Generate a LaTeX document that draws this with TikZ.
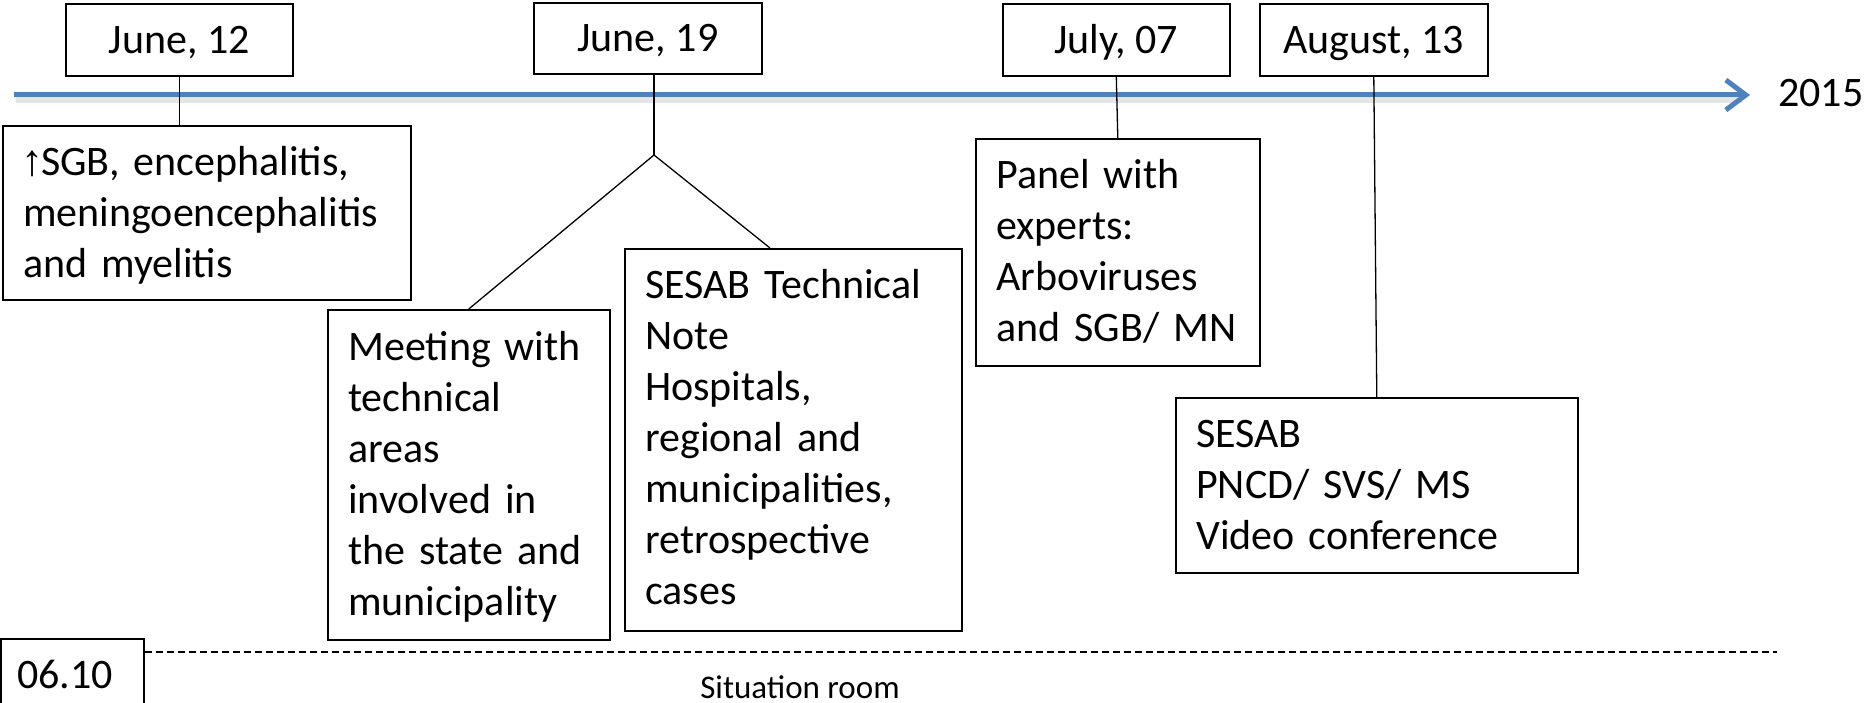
\documentclass[tikz,border=0pt]{standalone}
\usepackage{fontspec}
\setmainfont{Carlito}
\newfontfamily\arrowfont{Liberation Sans}
\usetikzlibrary{arrows.meta,calc}
\definecolor{tlblue}{RGB}{79,129,189}
\newcommand{\mainsz}{\fontsize{42}{51}\selectfont}
\newcommand{\fst}{\rule{0pt}{34pt}}
\begin{document}
\begin{tikzpicture}[x=1pt,y=-1pt,
  box/.style={draw,line width=1.6pt,inner sep=0pt,anchor=north west},
  datebox/.style={box,font=\mainsz,text height=27pt,text depth=0pt},
  txt/.style={anchor=north west,inner sep=0pt,align=left,text width=420pt,font=\mainsz},
  conn/.style={line width=1.3pt},
  timeline/.style={line width=5pt,color=tlblue,-{Straight Barb[length=20pt,width=30pt,line width=5pt]}}]
\useasboundingbox (0,0) rectangle (1874,703);
% timeline
\coordinate (tls) at (14,95);
\coordinate (tle) at (1750,95);
\draw[line width=6pt,black!10] ($(tls)+(2,5)$) -- ($(tle)+(-8,5)$);
\draw[timeline] (tls) -- (tle);
\node[anchor=base west,inner sep=0pt,font=\mainsz] (yr) at (1778,107) {2015};
% date boxes
\node[datebox,minimum width=227pt,minimum height=72pt] (d12) at (65,3) {June, 12};
\node[datebox,minimum width=228pt,minimum height=71pt] (d19) at (533,2) {June, 19};
\node[datebox,minimum width=227pt,minimum height=72pt] (d07) at (1002,3) {July, 07};
\node[datebox,minimum width=228pt,minimum height=72pt] (d13) at (1259,3) {August, 13};
% event boxes
\node[box,minimum width=408pt,minimum height=174pt] (sgb) at (2,125) {};
\node[txt] (sgbt) at (23,141) {\fst{\arrowfont\fontsize{44}{51}\selectfont\kern-2pt↑\kern-2pt}SGB, encephalitis,\\meningoencephalitis\\and myelitis};
\node[box,minimum width=282pt,minimum height=330pt] (meet) at (327,309) {};
\node[txt] (meett) at (348,326) {\fst Meeting with\\technical\\areas\\involved in\\the state and\\municipality};
\node[box,minimum width=337pt,minimum height=382pt] (tech) at (624,248) {};
\node[txt] (techt) at (645,264) {\fst SESAB Technical\\Note\\Hospitals,\\regional and\\municipalities,\\retrospective\\cases};
\node[box,minimum width=284pt,minimum height=227pt] (panel) at (975,138) {};
\node[txt] (panelt) at (996,154) {\fst Panel with\\experts:\\Arboviruses\\and SGB/ MN};
\node[box,minimum width=402pt,minimum height=175pt] (sesab) at (1175,397) {};
\node[txt] (sesabt) at (1196,413) {\fst SESAB\\PNCD/ SVS/ MS\\Video conference};
% bottom
\node[box,minimum width=143pt,minimum height=80pt] (d0610) at (0,638) {};
\node[anchor=base west,inner sep=0pt,font=\mainsz] (d0610t) at (17,688) {06.10};
\coordinate (dashend) at (1777,652);
\draw[dash pattern=on 7pt off 4pt,line width=1.3pt] (dashend -| d0610.east) -- (dashend);
\node[anchor=base,inner sep=0pt,font=\fontsize{33}{36}\selectfont] (room) at (800,698) {Situation room};
% connectors
\draw[conn] (d12.south) -- (d12.south |- sgb.north);
\coordinate (br) at (654,155);
\coordinate (techin) at ($(tech.north west)+(146,0)$);
\draw[conn] (br |- d19.south) -- (br);
\draw[conn] (br) -- (meet.north);
\draw[conn] (br) -- (techin);
\draw[conn] (d07.south) -- (panel.north);
\draw[conn] (d13.south) -- (sesab.north);
\end{tikzpicture}
\end{document}
